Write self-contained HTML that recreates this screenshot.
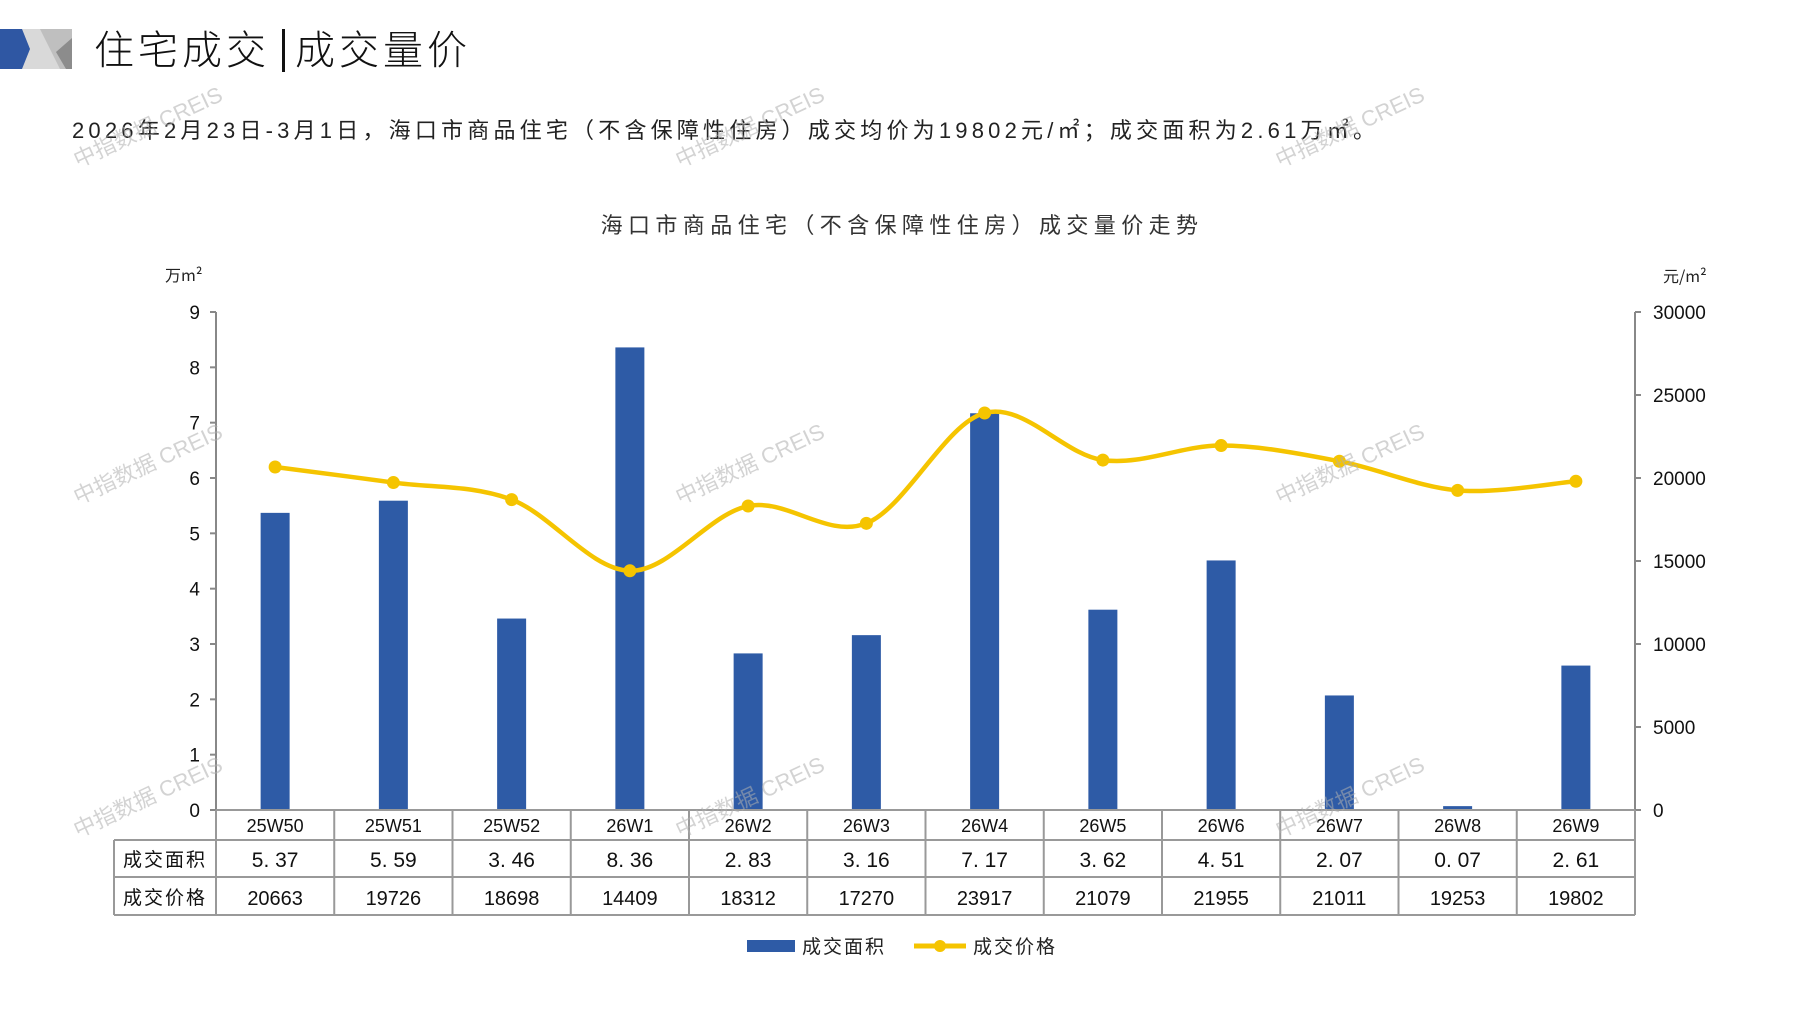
<!DOCTYPE html>
<html><head><meta charset="utf-8">
<style>
html,body{margin:0;padding:0;background:#fff;}
body{width:1797px;height:1010px;overflow:hidden;position:relative;font-family:"Liberation Sans","Noto Sans CJK SC",sans-serif;}
</style></head><body>
<svg width="1797" height="1010" viewBox="0 0 1797 1010" xmlns="http://www.w3.org/2000/svg" style="position:absolute;left:0;top:0">
<!-- logo -->
<polygon points="0,29 72,29 72,69 0,69" fill="#d9d9d9"/>
<polygon points="0,29 22,29 30,49 22,69 0,69" fill="#2f57a3"/>
<polygon points="40,29 72,29 72,69 60,69" fill="#bfbfbf"/>
<polygon points="56,52 72,38 72,69 66,69" fill="#8c8c8c"/>
<text x="94" y="64" font-size="40" fill="#111" font-family="'Noto Sans CJK SC',sans-serif" font-weight="300" letter-spacing="4">住宅成交</text>
<rect x="282" y="29" width="3" height="43" fill="#111"/>
<text x="295" y="64" font-size="40" fill="#111" font-family="'Noto Sans CJK SC',sans-serif" font-weight="300" letter-spacing="4">成交量价</text>
<text x="72" y="138" font-size="22" fill="#222" letter-spacing="4.2" font-family="'Liberation Sans','Noto Sans CJK SC',sans-serif">2026年2月23日-3月1日，海口市商品住宅（不含保障性住房）成交均价为19802元/㎡；成交面积为2.61万㎡。</text>
<text x="902" y="233" font-size="22" fill="#333" text-anchor="middle" font-family="'Noto Sans CJK SC',sans-serif" letter-spacing="5.4">海口市商品住宅（不含保障性住房）成交量价走势</text>
<text x="165" y="281" font-size="16" fill="#222" font-family="'Noto Sans CJK SC',sans-serif">万m²</text>
<text x="1663" y="282" font-size="16" fill="#222" font-family="'Noto Sans CJK SC',sans-serif">元/m²</text>
<g id="axes" stroke="#888" stroke-width="2" fill="none">
<line x1="216" y1="312" x2="216" y2="810"/>
<line x1="1635" y1="312" x2="1635" y2="810"/>
</g>
<g id="lt" font-size="19" fill="#111" text-anchor="end"></g>
<g id="rt" font-size="19" fill="#111"></g>
<g id="bars" fill="#2e5ba6"></g>
<path id="line" fill="none" stroke="#f5c400" stroke-width="4.5"/>
<g id="dots" fill="#f5c400"></g>
<g id="tbl" stroke="#999" stroke-width="2" fill="none"></g>
<g id="tt" font-size="19" fill="#111" text-anchor="middle"></g>
<!-- legend -->
<rect x="747" y="940" width="48" height="12" fill="#2e5ba6"/>
<text x="802" y="953" font-size="19" fill="#222" font-family="'Noto Sans CJK SC',sans-serif" letter-spacing="2">成交面积</text>
<line x1="914" y1="946" x2="966" y2="946" stroke="#f5c400" stroke-width="5"/>
<circle cx="940" cy="946" r="6" fill="#f5c400"/>
<text x="973" y="953" font-size="19" fill="#222" font-family="'Noto Sans CJK SC',sans-serif" letter-spacing="2">成交价格</text>
<g id="wm" font-size="22" fill="#b0b0b0" opacity="0.55" font-family="'Liberation Sans','Noto Sans CJK SC',sans-serif"></g>
</svg>
<script>
var NS="http://www.w3.org/2000/svg";
function el(p,t,a,txt){var e=document.createElementNS(NS,t);for(var k in a)e.setAttribute(k,a[k]);if(txt!==undefined)e.textContent=txt;document.getElementById(p).appendChild(e);return e;}
var cats=["25W50","25W51","25W52","26W1","26W2","26W3","26W4","26W5","26W6","26W7","26W8","26W9"];
var area=[5.37,5.59,3.46,8.36,2.83,3.16,7.17,3.62,4.51,2.07,0.07,2.61];
var areaS=["5. 37","5. 59","3. 46","8. 36","2. 83","3. 16","7. 17","3. 62","4. 51","2. 07","0. 07","2. 61"];
var price=[20663,19726,18698,14409,18312,17270,23917,21079,21955,21011,19253,19802];
var x0=216,cw=(1635-216)/12,y0=810,ytop=312;
for(var i=0;i<=9;i++){var y=y0-i*(y0-ytop)/9;el("lt","text",{x:200,y:y+7},String(i));el("axes","line",{x1:210,y1:y,x2:216,y2:y});}
for(var i=0;i<=6;i++){var y=y0-i*(y0-ytop)/6;el("rt","text",{x:1653,y:y+7},String(i*5000));el("axes","line",{x1:1635,y1:y,x2:1641,y2:y});}
var pts=[];
for(var i=0;i<12;i++){var cx=x0+cw*(i+0.5);var h=area[i]*(y0-ytop)/9;
el("bars","rect",{x:cx-14.5,y:y0-h,width:29,height:h});
pts.push([cx,y0-price[i]*(y0-ytop)/30000]);}
var d="M"+pts[0][0]+","+pts[0][1];
for(var i=0;i<11;i++){var p0=pts[Math.max(0,i-1)],p1=pts[i],p2=pts[i+1],p3=pts[Math.min(11,i+2)];
var c1=[p1[0]+(p2[0]-p0[0])/6,p1[1]+(p2[1]-p0[1])/6],c2=[p2[0]-(p3[0]-p1[0])/6,p2[1]-(p3[1]-p1[1])/6];
d+=" C"+c1[0]+","+c1[1]+" "+c2[0]+","+c2[1]+" "+p2[0]+","+p2[1];}
document.getElementById("line").setAttribute("d",d);
pts.forEach(function(p){el("dots","circle",{cx:p[0],cy:p[1],r:6.5});});
el("tbl","line",{x1:216,y1:810,x2:1635,y2:810});
el("tbl","line",{x1:114,y1:840,x2:1635,y2:840});
el("tbl","line",{x1:114,y1:877,x2:1635,y2:877});
el("tbl","line",{x1:114,y1:915,x2:1635,y2:915});
el("tbl","line",{x1:114,y1:840,x2:114,y2:915});
for(var i=0;i<=12;i++){var x=x0+cw*i;el("tbl","line",{x1:x,y1:810,x2:x,y2:915});}
el("tt","text",{x:165,y:866,"font-family":"'Noto Sans CJK SC',sans-serif","font-size":"19","letter-spacing":"2"},"成交面积");
el("tt","text",{x:165,y:904,"font-family":"'Noto Sans CJK SC',sans-serif","font-size":"19","letter-spacing":"2"},"成交价格");
for(var i=0;i<12;i++){var cx=x0+cw*(i+0.5);
el("tt","text",{x:cx,y:832,"font-size":"18"},cats[i]);
el("tt","text",{x:cx,y:867,"font-size":"21"},areaS[i]);
el("tt","text",{x:cx,y:905,"font-size":"20"},String(price[i]));}
[[78,168],[680,168],[1280,168],[78,505],[680,505],[1280,505],[78,838],[680,838],[1280,838]].forEach(function(p){
el("wm","text",{x:p[0],y:p[1],transform:"rotate(-25 "+p[0]+" "+p[1]+")"},"中指数据 CREIS");});
</script>
</body></html>
